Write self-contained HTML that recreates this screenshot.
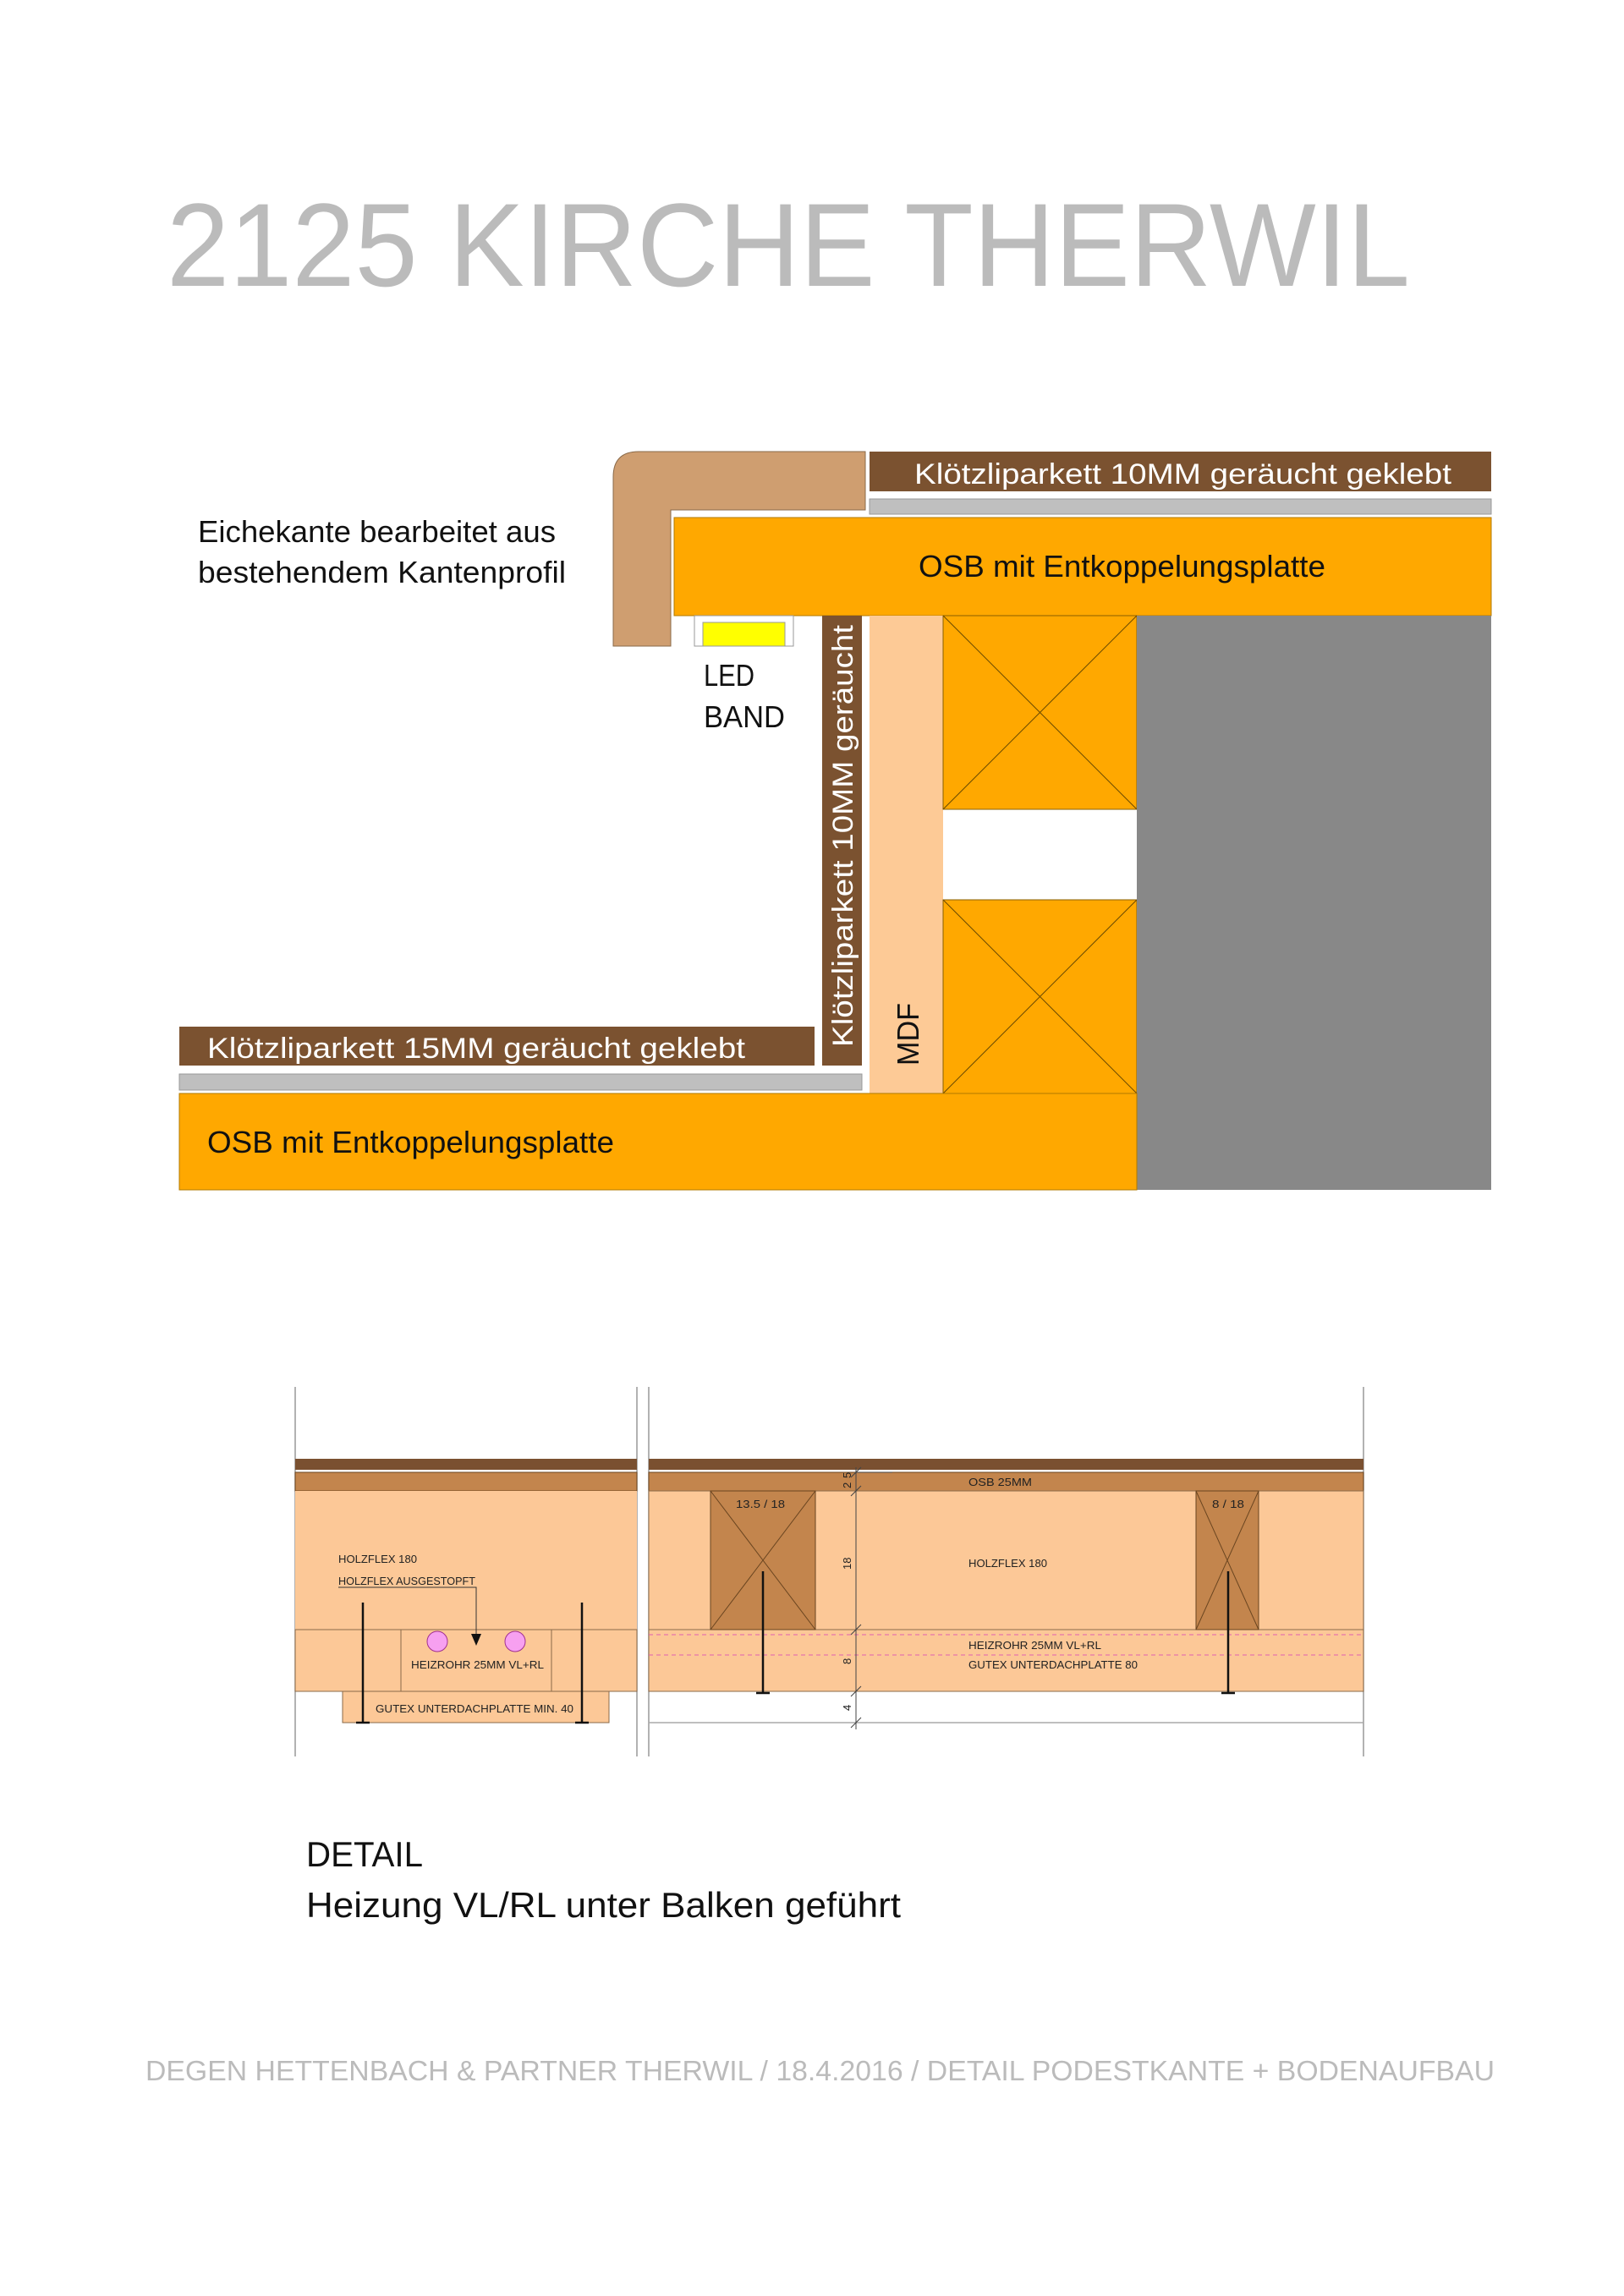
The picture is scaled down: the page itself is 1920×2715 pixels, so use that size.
<!DOCTYPE html>
<html><head><meta charset="utf-8"><style>
html,body{margin:0;padding:0;background:#fff;}
svg{display:block;}
text{font-family:"Liberation Sans",sans-serif;}
</style></head><body>
<svg width="1920" height="2715" viewBox="0 0 1920 2715" xmlns="http://www.w3.org/2000/svg">
<rect width="1920" height="2715" fill="#fff"/>
<!-- Title -->
<text x="197" y="338" font-size="140" fill="#bbbbbb" textLength="1470" lengthAdjust="spacingAndGlyphs">2125 KIRCHE THERWIL</text>

<!-- Upper detail -->
<text x="234" y="641" font-size="36" fill="#111" textLength="423" lengthAdjust="spacingAndGlyphs">Eichekante bearbeitet aus</text>
<text x="234" y="689" font-size="36" fill="#111" textLength="435" lengthAdjust="spacingAndGlyphs">bestehendem Kantenprofil</text>

<!-- Eichekante profile -->
<path d="M755 534 H1023 V603 H793 V764 H725 V564 Q725 534 755 534 Z" fill="#cf9e70" stroke="#8a6a4a" stroke-width="1"/>
<!-- top parkett -->
<rect x="1028" y="534" width="735" height="47" fill="#7b5230"/>
<text x="1081" y="572" font-size="34" fill="#fff" textLength="635" lengthAdjust="spacingAndGlyphs">Klötzliparkett 10MM  geräucht geklebt</text>
<rect x="1028" y="590" width="735" height="18" fill="#bfbfbf" stroke="#999" stroke-width="1"/>
<!-- top OSB -->
<rect x="797" y="612" width="966" height="116" fill="#ffa800" stroke="#b07a00" stroke-width="1"/>
<text x="1086" y="682" font-size="36" fill="#111" textLength="481" lengthAdjust="spacingAndGlyphs">OSB mit Entkoppelungsplatte</text>
<!-- LED -->
<rect x="821" y="728" width="117" height="36" fill="#fff" stroke="#999" stroke-width="1"/>
<rect x="831" y="736" width="97" height="28" fill="#ffff00" stroke="#999" stroke-width="1"/>
<text x="832" y="811" font-size="36" fill="#111" textLength="60" lengthAdjust="spacingAndGlyphs">LED</text>
<text x="832" y="860" font-size="36" fill="#111" textLength="96" lengthAdjust="spacingAndGlyphs">BAND</text>
<!-- vertical parkett -->
<rect x="972" y="728" width="47" height="532" fill="#7b5230"/>
<text transform="translate(1008,1238) rotate(-90)" x="0" y="0" font-size="34" fill="#fff" textLength="499" lengthAdjust="spacingAndGlyphs">Klötzliparkett 10MM  geräucht</text>
<!-- MDF -->
<rect x="1028" y="728" width="87" height="565" fill="#fdca96"/>
<text transform="translate(1086,1260) rotate(-90)" x="0" y="0" font-size="36" fill="#111" textLength="74" lengthAdjust="spacingAndGlyphs">MDF</text>
<!-- beams -->
<rect x="1115" y="728" width="229" height="229" fill="#ffa800" stroke="#8a6000" stroke-width="1"/>
<path d="M1115 728 L1344 957 M1344 728 L1115 957" stroke="#6a4a00" stroke-width="1"/>
<rect x="1115" y="1064" width="229" height="229" fill="#ffa800" stroke="#8a6000" stroke-width="1"/>
<path d="M1115 1064 L1344 1293 M1344 1064 L1115 1293" stroke="#6a4a00" stroke-width="1"/>
<!-- gray -->
<rect x="1344" y="728" width="419" height="679" fill="#888888"/>
<!-- bottom parkett -->
<rect x="212" y="1214" width="751" height="46" fill="#7b5230"/>
<text x="245" y="1251" font-size="34" fill="#fff" textLength="636" lengthAdjust="spacingAndGlyphs">Klötzliparkett 15MM  geräucht geklebt</text>
<rect x="212" y="1270" width="807" height="19" fill="#bfbfbf" stroke="#999" stroke-width="1"/>
<!-- bottom OSB -->
<rect x="212" y="1293" width="1132" height="114" fill="#ffa800" stroke="#b07a00" stroke-width="1"/>
<text x="245" y="1363" font-size="36" fill="#111" textLength="481" lengthAdjust="spacingAndGlyphs">OSB mit Entkoppelungsplatte</text>

<!-- Lower detail: left panel -->
<g stroke="#999" stroke-width="1.5">
<line x1="349" y1="1640" x2="349" y2="2077"/>
<line x1="753" y1="1640" x2="753" y2="2077"/>
<line x1="767" y1="1640" x2="767" y2="2077"/>
<line x1="1612" y1="1640" x2="1612" y2="2077"/>
</g>
<rect x="349" y="1725" width="404" height="13" fill="#7a5030"/>
<rect x="349" y="1741" width="404" height="22" fill="#c3854d" stroke="#6a4520" stroke-width="1"/>
<rect x="349" y="1763" width="404" height="164" fill="#fcc897"/>
<rect x="349" y="1927" width="404" height="73" fill="#fcc897" stroke="#8a6a4a" stroke-width="1"/>
<rect x="474" y="1927" width="178" height="73" fill="none" stroke="#8a6a4a" stroke-width="1"/>
<rect x="405" y="2000" width="315" height="37" fill="#fcc897" stroke="#8a6a4a" stroke-width="1"/>
<circle cx="517" cy="1941" r="12" fill="#f7a0f0" stroke="#a03090" stroke-width="1"/>
<circle cx="609" cy="1941" r="12" fill="#f7a0f0" stroke="#a03090" stroke-width="1"/>
<path d="M400 1877 H563 V1935" fill="none" stroke="#333" stroke-width="1"/>
<path d="M557 1932 L569 1932 L563 1946 Z" fill="#111"/>
<g stroke="#111" stroke-width="2.5">
<line x1="429" y1="1895" x2="429" y2="2037"/><line x1="421" y1="2037" x2="437" y2="2037"/>
<line x1="688" y1="1895" x2="688" y2="2037"/><line x1="680" y1="2037" x2="696" y2="2037"/>
</g>
<g font-size="13" fill="#222">
<text x="400" y="1848" textLength="93" lengthAdjust="spacingAndGlyphs">HOLZFLEX 180</text>
<text x="400" y="1874" textLength="162" lengthAdjust="spacingAndGlyphs">HOLZFLEX AUSGESTOPFT</text>
<text x="486" y="1973" textLength="157" lengthAdjust="spacingAndGlyphs">HEIZROHR 25MM VL+RL</text>
<text x="444" y="2025" textLength="234" lengthAdjust="spacingAndGlyphs">GUTEX UNTERDACHPLATTE MIN. 40</text>
</g>

<!-- right panel -->
<rect x="767" y="1725" width="845" height="13" fill="#7a5030"/>
<rect x="767" y="1741" width="845" height="22" fill="#c3854d" stroke="#6a4520" stroke-width="1"/>
<rect x="767" y="1763" width="845" height="164" fill="#fcc897" stroke="#8a6a4a" stroke-width="1"/>
<rect x="767" y="1927" width="845" height="73" fill="#fcc897" stroke="#8a6a4a" stroke-width="1"/>
<line x1="767" y1="2037" x2="1612" y2="2037" stroke="#aaa" stroke-width="1.5"/>
<line x1="767" y1="1933" x2="1612" y2="1933" stroke="#e060b0" stroke-width="1" stroke-dasharray="5,4"/>
<line x1="767" y1="1957" x2="1612" y2="1957" stroke="#e060b0" stroke-width="1" stroke-dasharray="5,4"/>
<rect x="840" y="1763" width="124" height="164" fill="#c3854d" stroke="#6a4520" stroke-width="1"/>
<path d="M840 1763 L964 1927 M964 1763 L840 1927" stroke="#6a4520" stroke-width="1"/>
<rect x="1414" y="1763" width="74" height="164" fill="#c3854d" stroke="#6a4520" stroke-width="1"/>
<path d="M1414 1763 L1488 1927 M1488 1763 L1414 1927" stroke="#6a4520" stroke-width="1"/>
<g stroke="#111" stroke-width="2.5">
<line x1="902" y1="1858" x2="902" y2="2002"/><line x1="894" y1="2002" x2="910" y2="2002"/>
<line x1="1452" y1="1858" x2="1452" y2="2002"/><line x1="1444" y1="2002" x2="1460" y2="2002"/>
</g>
<!-- dimension -->
<g stroke="#444" stroke-width="1">
<line x1="1012" y1="1735" x2="1012" y2="2045"/>
<line x1="1012" y1="1741" x2="1055" y2="1741"/>
<line x1="1006" y1="1747" x2="1018" y2="1735"/>
<line x1="1006" y1="1769" x2="1018" y2="1757"/>
<line x1="1006" y1="1933" x2="1018" y2="1921"/>
<line x1="1006" y1="2006" x2="1018" y2="1994"/>
<line x1="1006" y1="2043" x2="1018" y2="2031"/>
</g>
<g font-size="13" fill="#222">
<text transform="translate(1006,1760) rotate(-90)">2</text>
<text transform="translate(1006,1748) rotate(-90)">5</text>
<text transform="translate(1006,1856) rotate(-90)">18</text>
<text transform="translate(1006,1968) rotate(-90)">8</text>
<text transform="translate(1006,2023) rotate(-90)">4</text>
<text x="1145" y="1757" textLength="75" lengthAdjust="spacingAndGlyphs">OSB 25MM</text>
<text x="1145" y="1853" textLength="93" lengthAdjust="spacingAndGlyphs">HOLZFLEX 180</text>
<text x="1145" y="1950" textLength="157" lengthAdjust="spacingAndGlyphs">HEIZROHR 25MM VL+RL</text>
<text x="1145" y="1973" textLength="200" lengthAdjust="spacingAndGlyphs">GUTEX UNTERDACHPLATTE 80</text>
<text x="870" y="1783" textLength="58" lengthAdjust="spacingAndGlyphs">13.5 / 18</text>
<text x="1433" y="1783" textLength="38" lengthAdjust="spacingAndGlyphs">8 / 18</text>
</g>

<!-- Detail caption -->
<text x="362" y="2207" font-size="42" fill="#111" textLength="138" lengthAdjust="spacingAndGlyphs">DETAIL</text>
<text x="362" y="2267" font-size="42" fill="#111" textLength="703" lengthAdjust="spacingAndGlyphs">Heizung VL/RL unter Balken geführt</text>

<!-- Footer -->
<text x="172" y="2460" font-size="33" fill="#bbbbbb" textLength="1595" lengthAdjust="spacingAndGlyphs">DEGEN HETTENBACH &amp; PARTNER THERWIL / 18.4.2016 / DETAIL PODESTKANTE + BODENAUFBAU</text>
</svg>
</body></html>
